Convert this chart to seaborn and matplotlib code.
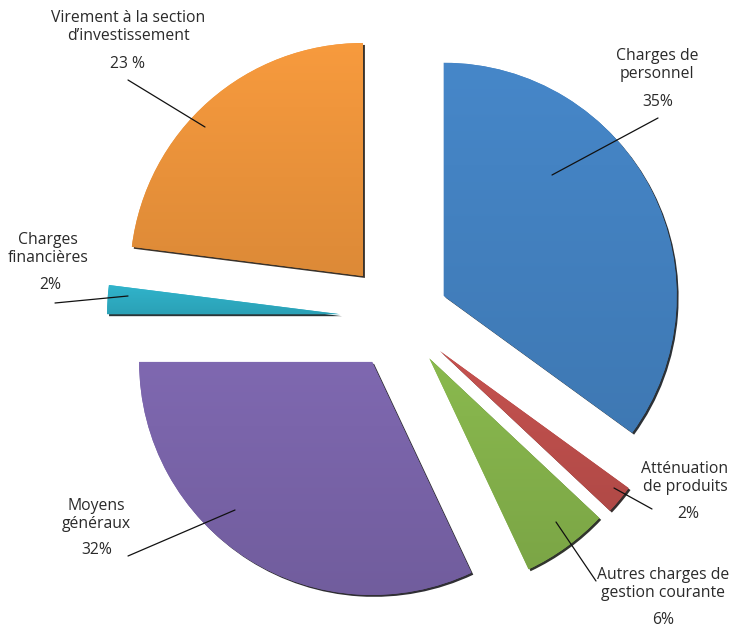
import matplotlib
matplotlib.use("Agg")
import matplotlib.pyplot as plt
import seaborn as sns
import numpy as np
from matplotlib.colors import to_rgb

# ---- data ----
categories = ["Charges de\npersonnel", "Atténuation\nde produits",
              "Autres charges de\ngestion courante", "Moyens\ngénéraux",
              "Charges\nfinancières", "Virement à la section\nd’investissement"]
values = [35, 2, 6, 32, 2, 23]
pct_labels = ["35%", "2%", "6%", "32%", "2%", "23 %"]

# ---- style / layout (image pixel coordinates) ----
colors = ["#4483C3", "#C0504D", "#86B44C", "#7B65AB", "#2FAFC6", "#F0963C"]
explode_px = [49, 52, 50, 52, 60, 56]
W, H = 734, 628
center = (400, 318)
radius = 233
label_xy = [(657, 65), (685, 478), (663, 584), (96, 515), (48, 249), (128, 27)]
pct_xy = [(658, 102), (688, 514), (663, 620), (97, 550), (50, 285), (128, 64)]
leaders = [((658, 118), (552, 175)), ((652, 509), (614, 488)),
           ((596, 581), (556, 522)), ((128, 556), (235, 510)),
           ((55, 303), (128, 296)), ((128, 80), (205, 127))]

sns.set_theme(style="white")
plt.rcParams['font.family'] = ['Open Sans', 'DejaVu Sans']

fig = plt.figure(figsize=(W / 100, H / 100), dpi=100)
ax = fig.add_axes([0, 0, 1, 1])
wedges, _ = ax.pie(values, explode=explode_px, colors=colors, startangle=-90,
                   counterclock=True, radius=radius, center=center,
                   shadow={'ox': 1.4, 'oy': 1.4, 'shade': 0.9, 'alpha': 0.85},
                   wedgeprops=dict(linewidth=0))
ax.set_xlim(0, W)
ax.set_ylim(H, 0)
ax.set_aspect('equal')
ax.axis('off')

# subtle vertical gradient inside each wedge
for w, c in zip(wedges, colors):
    rgb = np.array(to_rgb(c))
    bb = w.get_path().get_extents(w.get_patch_transform())
    grad = np.linspace(0, 1, 64)[:, None]
    top = np.clip(rgb * 1.03, 0, 1)
    bot = rgb * 0.92
    img = top[None, None, :] * (1 - grad[..., None]) + bot[None, None, :] * grad[..., None]
    img = np.repeat(img, 2, axis=1)
    im = ax.imshow(img, extent=(bb.x0, bb.x1, bb.y1, bb.y0), aspect='auto',
                   zorder=w.get_zorder() + 0.01, interpolation='bilinear')
    im.set_clip_path(w)

ax.set_xlim(0, W)
ax.set_ylim(H, 0)

for cat, p, (lx, ly), (px, py), (a, b) in zip(categories, pct_labels, label_xy, pct_xy, leaders):
    ax.text(lx, ly, cat, ha='center', va='center', fontsize=11.3,
            color='#2a2a2a', linespacing=1.1, zorder=5)
    ax.text(px, py, p, ha='center', va='center', fontsize=11.3,
            color='#2a2a2a', zorder=5)
    ax.plot([a[0], b[0]], [a[1], b[1]], color='#111111', lw=0.9, zorder=6)

fig.savefig("out.png", dpi=100)
